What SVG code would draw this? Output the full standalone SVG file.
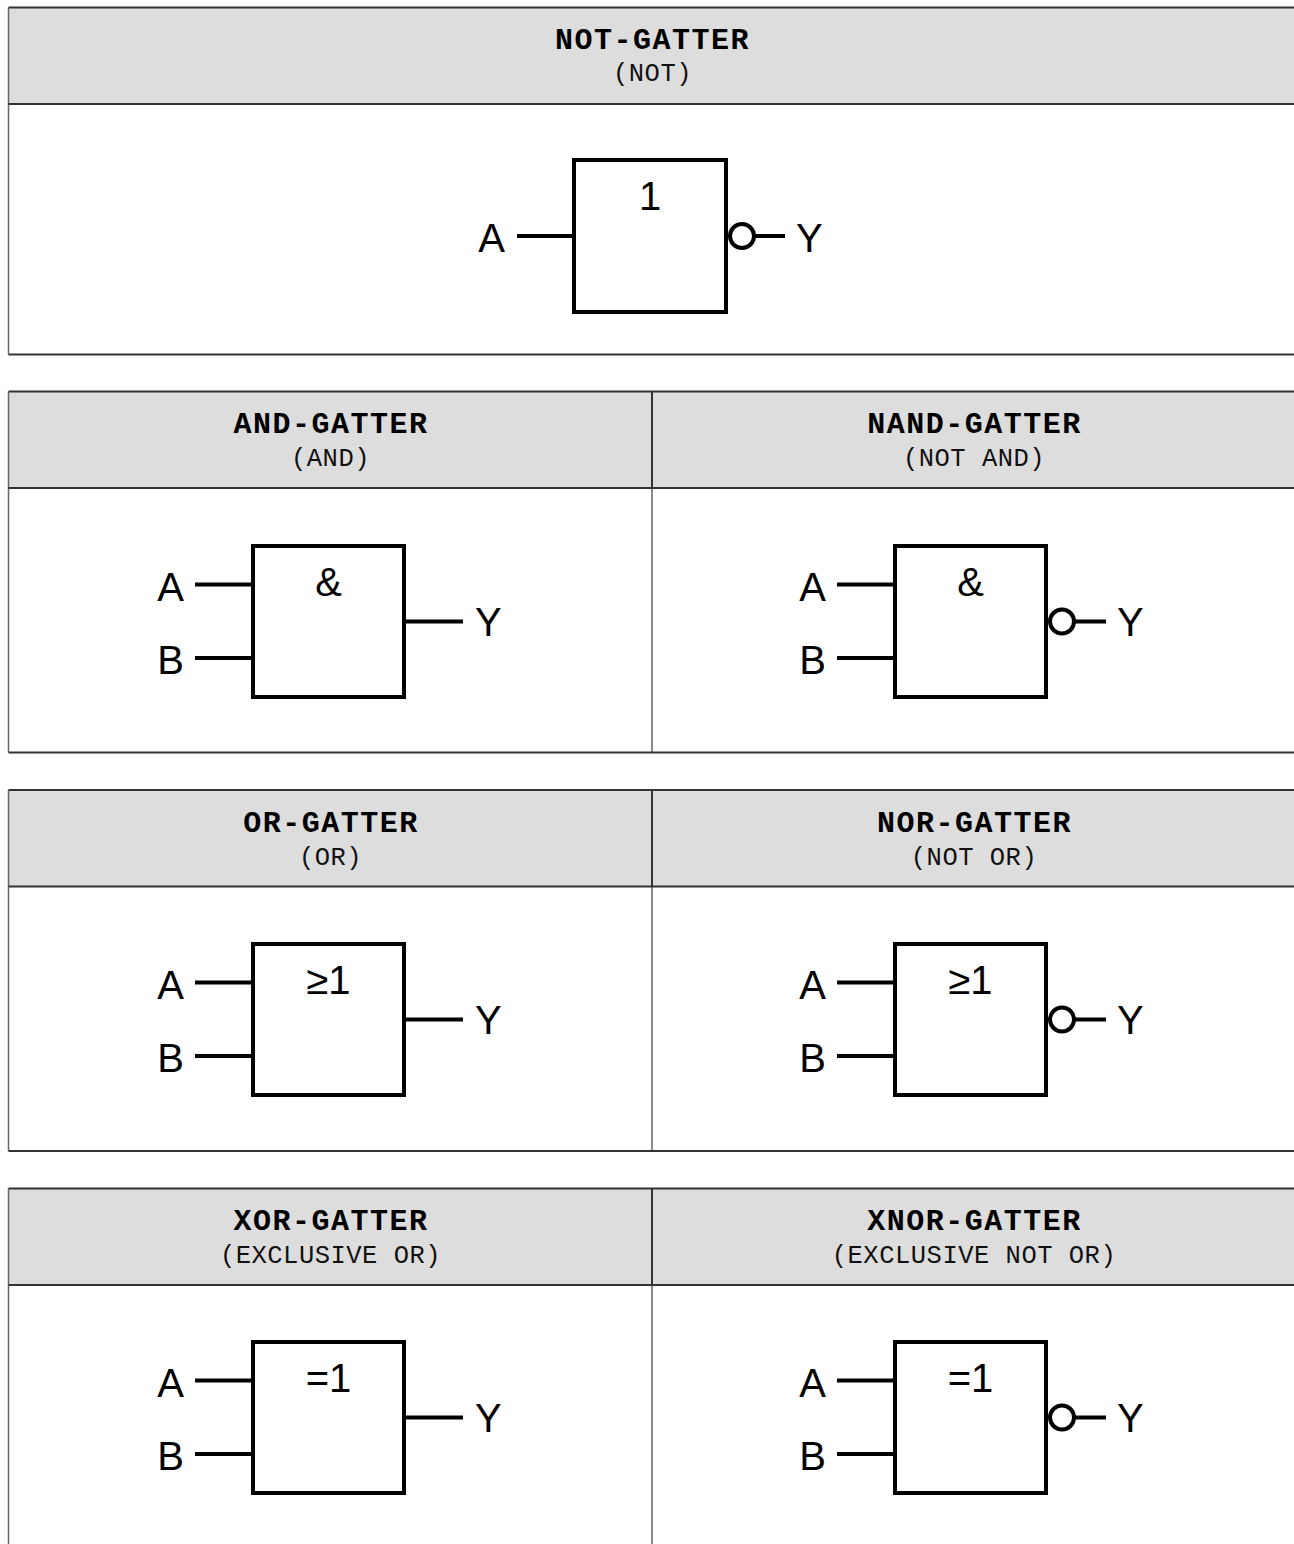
<svg xmlns="http://www.w3.org/2000/svg" width="1294" height="1544" viewBox="0 0 1294 1544">
<style>
.hd{fill:#dddddd;stroke:none}
.ln{stroke:#333;stroke-width:2;fill:none}
.lt{stroke:#666;stroke-width:1.5;fill:none}
.tt{font-family:"Liberation Mono",monospace;font-weight:bold;font-size:30px;letter-spacing:1.5px;fill:#000;text-anchor:middle}
.st{font-family:"Liberation Mono",monospace;font-size:25.5px;letter-spacing:0.5px;fill:#111;text-anchor:middle}
.box{fill:#fff;stroke:#000;stroke-width:4}
.w{stroke:#000;stroke-width:4;fill:none}
.bub{fill:#fff;stroke:#000;stroke-width:4}
.lb{font-family:"Liberation Sans",Arial,sans-serif;font-size:40px;fill:#000}
.sy{font-family:"Liberation Sans",Arial,sans-serif;font-size:40px;fill:#000;text-anchor:middle}
.e{text-anchor:end}
</style>
<rect width="1294" height="1544" fill="#fff"/>

<g id="table-not">
<rect class="hd" x="8.5" y="7.5" width="1287" height="96.5"/>
<path class="lt" d="M8.5 7.5V354.5"/>
<path class="ln" d="M8.5 7.5H1295.5M8.5 104H1295.5M8.5 354.5H1295.5"/>
<text class="tt" x="652.5" y="49">NOT-GATTER</text>
<text class="st" x="652.5" y="81">(NOT)</text>
</g>

<g id="table-and">
<rect class="hd" x="8.5" y="391.5" width="1287" height="96.5"/>
<path class="lt" d="M8.5 391.5V752.5M652 488V752.5"/>
<path class="ln" d="M8.5 391.5H1295.5M8.5 488H1295.5M8.5 752.5H1295.5M652 391.5V488"/>
<text class="tt" x="331" y="433">AND-GATTER</text>
<text class="st" x="330.5" y="466">(AND)</text>
<text class="tt" x="974.5" y="433">NAND-GATTER</text>
<text class="st" x="974" y="466">(NOT AND)</text>
</g>

<g id="table-or">
<rect class="hd" x="8.5" y="790" width="1287" height="96.5"/>
<path class="lt" d="M8.5 790V1151M652 886.5V1151"/>
<path class="ln" d="M8.5 790H1295.5M8.5 886.5H1295.5M8.5 1151H1295.5M652 790V886.5"/>
<text class="tt" x="331" y="831.5">OR-GATTER</text>
<text class="st" x="330.5" y="864.5">(OR)</text>
<text class="tt" x="974.5" y="831.5">NOR-GATTER</text>
<text class="st" x="974" y="864.5">(NOT OR)</text>
</g>

<g id="table-xor">
<rect class="hd" x="8.5" y="1188.5" width="1287" height="96.5"/>
<path class="lt" d="M8.5 1188.5V1549M652 1285V1549"/>
<path class="ln" d="M8.5 1188.5H1295.5M8.5 1285H1295.5M652 1188.5V1285"/>
<text class="tt" x="331" y="1230">XOR-GATTER</text>
<text class="st" x="330.5" y="1263">(EXCLUSIVE OR)</text>
<text class="tt" x="974.5" y="1230">XNOR-GATTER</text>
<text class="st" x="974" y="1263">(EXCLUSIVE NOT OR)</text>
</g>

<g id="connectors">
<path class="w" d="M517 236H574M741 236H785"/>
<path class="w" d="M195 584.5H253M195 658H253M404 621.5H463"/>
<path class="w" d="M837 584.5H895M837 658H895M1074 621.5H1106"/>
<path class="w" d="M195 982.5H253M195 1056H253M404 1019.5H463"/>
<path class="w" d="M837 982.5H895M837 1056H895M1074 1019.5H1106"/>
<path class="w" d="M195 1380.5H253M195 1454H253M404 1417.5H463"/>
<path class="w" d="M837 1380.5H895M837 1454H895M1074 1417.5H1106"/>
</g>

<g id="gate-not">
<rect class="box" x="574" y="160" width="152" height="152"/>
<circle class="bub" cx="742" cy="236" r="12"/>
<text class="sy" x="650" y="209.5">1</text>
<text class="lb e" x="505" y="251.5">A</text>
<text class="lb" x="796" y="251.5">Y</text>
</g>

<g id="gate-and">
<rect class="box" x="253" y="546" width="151" height="151"/>
<text class="sy" x="328.5" y="595.5">&amp;</text>
<text class="lb e" x="184" y="600.5">A</text>
<text class="lb e" x="184" y="674">B</text>
<text class="lb" x="475" y="636">Y</text>
</g>

<g id="gate-nand">
<rect class="box" x="895" y="546" width="151" height="151"/>
<circle class="bub" cx="1062" cy="621.5" r="12"/>
<text class="sy" x="970.5" y="595.5">&amp;</text>
<text class="lb e" x="826" y="600.5">A</text>
<text class="lb e" x="826" y="674">B</text>
<text class="lb" x="1117" y="636">Y</text>
</g>

<g id="gate-or">
<rect class="box" x="253" y="944" width="151" height="151"/>
<text class="sy" x="328.5" y="993.5">≥1</text>
<text class="lb e" x="184" y="998.5">A</text>
<text class="lb e" x="184" y="1072">B</text>
<text class="lb" x="475" y="1034">Y</text>
</g>

<g id="gate-nor">
<rect class="box" x="895" y="944" width="151" height="151"/>
<circle class="bub" cx="1062" cy="1019.5" r="12"/>
<text class="sy" x="970.5" y="993.5">≥1</text>
<text class="lb e" x="826" y="998.5">A</text>
<text class="lb e" x="826" y="1072">B</text>
<text class="lb" x="1117" y="1034">Y</text>
</g>

<g id="gate-xor">
<rect class="box" x="253" y="1342" width="151" height="151"/>
<text class="sy" x="328.5" y="1391.5">=1</text>
<text class="lb e" x="184" y="1396.5">A</text>
<text class="lb e" x="184" y="1470">B</text>
<text class="lb" x="475" y="1432">Y</text>
</g>

<g id="gate-xnor">
<rect class="box" x="895" y="1342" width="151" height="151"/>
<circle class="bub" cx="1062" cy="1417.5" r="12"/>
<text class="sy" x="970.5" y="1391.5">=1</text>
<text class="lb e" x="826" y="1396.5">A</text>
<text class="lb e" x="826" y="1470">B</text>
<text class="lb" x="1117" y="1432">Y</text>
</g>
</svg>
